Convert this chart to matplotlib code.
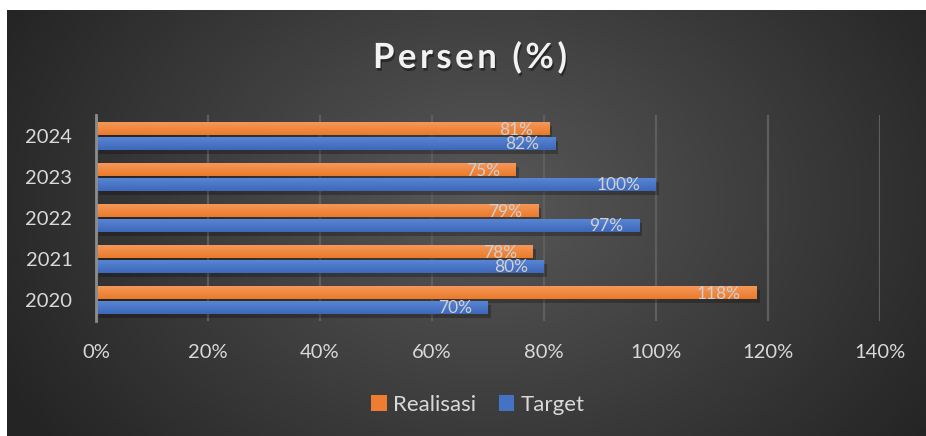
import numpy as np
import matplotlib
matplotlib.use("Agg")
import matplotlib.pyplot as plt
import matplotlib.patheffects as pe

plt.rcParams['font.family'] = ['Lato', 'DejaVu Sans']

years = ['2020', '2021', '2022', '2023', '2024']
realisasi = [118, 78, 79, 75, 81]
target = [70, 80, 97, 100, 82]
xticks = [0, 20, 40, 60, 80, 100, 120, 140]
title = 'Persen (%)'
series_names = ['Realisasi', 'Target']

W, H = 926, 436
fig = plt.figure(figsize=(W / 100, H / 100), dpi=100)
fig.patch.set_facecolor('white')

# background panel with radial gradient
bg = fig.add_axes([7 / W, 0, (W - 7) / W, (H - 10) / H])
bg.set_axis_off()
yy, xx = np.mgrid[0:1:300j, 0:1:600j]
cx, cy = 0.52, 0.55
r = np.sqrt(((xx - cx) * 1.6) ** 2 + ((yy - cy) * 1.0) ** 2)
r = np.clip(r / 0.95, 0, 1)
c0 = np.array([0x58, 0x58, 0x58]) / 255
c1 = np.array([0x24, 0x24, 0x24]) / 255
img = c0[None, None, :] * (1 - r[..., None]) + c1[None, None, :] * r[..., None]
bg.imshow(img, aspect='auto', extent=[0, 1, 0, 1], origin='lower')
bg.set_xlim(0, 1)
bg.set_ylim(0, 1)

ax = fig.add_axes([96 / W, 115.5 / H, 784 / W, 205 / H])
ax.set_facecolor('none')

y = np.arange(len(years))
h = 0.32
off = 0.18
orange = '#ED7D31'
blue = '#4472C4'

shadow = [pe.SimplePatchShadow(offset=(2, -3), shadow_rgbFace='black', alpha=0.25), pe.Normal()]
b1 = ax.barh(y + off, realisasi, height=h, color=orange, label=series_names[0], zorder=3,
             path_effects=shadow)
b2 = ax.barh(y - off, target, height=h, color=blue, label=series_names[1], zorder=3,
             path_effects=shadow)

# subtle vertical gradient on bars
grad = np.linspace(0, 1, 50).reshape(-1, 1)
for bars, top_c, bot_c in [(b1, '#F59A5C', '#EB7A2A'), (b2, '#5A87D6', '#3E68BA')]:
    tc = np.array(matplotlib.colors.to_rgb(top_c))
    bc = np.array(matplotlib.colors.to_rgb(bot_c))
    g = bc[None, None, :] * (1 - grad[..., None]) + tc[None, None, :] * grad[..., None]
    for p in bars:
        x0, y0 = p.get_x(), p.get_y()
        w, hh = p.get_width(), p.get_height()
        im = ax.imshow(g, extent=[x0, x0 + w, y0, y0 + hh], origin='lower', aspect='auto', zorder=3.5)
        im.set_clip_path(p)

label_color = '#D0D0D0'
for bars, vals in [(b1, realisasi), (b2, target)]:
    for p, v in zip(bars, vals):
        ax.annotate(f'{v}%', xy=(v, p.get_y() + p.get_height() / 2), xytext=(-16, -1),
                    textcoords='offset pixels', ha='right', va='center',
                    fontsize=12.5, color=label_color, zorder=5)

ax.set_xlim(0, 140)
ax.set_ylim(-0.5, 4.5)
ax.set_xticks(xticks)
ax.set_xticklabels([f'{t}%' for t in xticks])
ax.set_yticks(y)
ax.set_yticklabels(years)
ax.tick_params(axis='both', length=0, labelsize=14.5, colors='#D9D9D9')
ax.tick_params(axis='x', pad=17)
ax.tick_params(axis='y', pad=17)
ax.grid(axis='x', color='#5E5E5E', linewidth=1.6, zorder=0)
for s in ['top', 'right', 'bottom']:
    ax.spines[s].set_visible(False)
ax.spines['left'].set_color('#8C8C8C')
ax.spines['left'].set_linewidth(2)
ax.spines['left'].set_zorder(4)

# letter-spaced title
renderer = fig.canvas.get_renderer()
tfont = dict(fontsize=25, fontweight='bold')
tracking = 3.5
widths = []
for ch in title:
    if ch == ' ':
        t = fig.text(0, 0, 'a a', **tfont)
        wa = fig.text(0, 0, 'aa', **tfont)
        widths.append(t.get_window_extent(renderer).width - wa.get_window_extent(renderer).width)
        t.remove(); wa.remove()
    else:
        t = fig.text(0, 0, ch, **tfont)
        widths.append(t.get_window_extent(renderer).width)
        t.remove()
total = sum(widths) + tracking * (len(title) - 1)
x = 470 - total / 2
for ch, wch in zip(title, widths):
    if ch != ' ':
        fig.text(x / W, 1 - 58 / H, ch, ha='left', va='center', color='#F2F2F2', **tfont,
                 path_effects=[pe.withSimplePatchShadow(offset=(1, -2), shadow_rgbFace='black', alpha=0.4)])
    x += wch + tracking

leg = fig.legend(handles=[b1, b2], labels=series_names, loc='center', bbox_to_anchor=(478 / W, 1 - 405 / H),
                 ncol=2, frameon=False, fontsize=16, labelcolor='#D9D9D9', handlelength=0.7,
                 handleheight=0.7, handletextpad=0.3, columnspacing=1.0)
for hnd in leg.legend_handles:
    hnd.set_path_effects([])

fig.savefig('out.png', dpi=100, facecolor=fig.get_facecolor())
